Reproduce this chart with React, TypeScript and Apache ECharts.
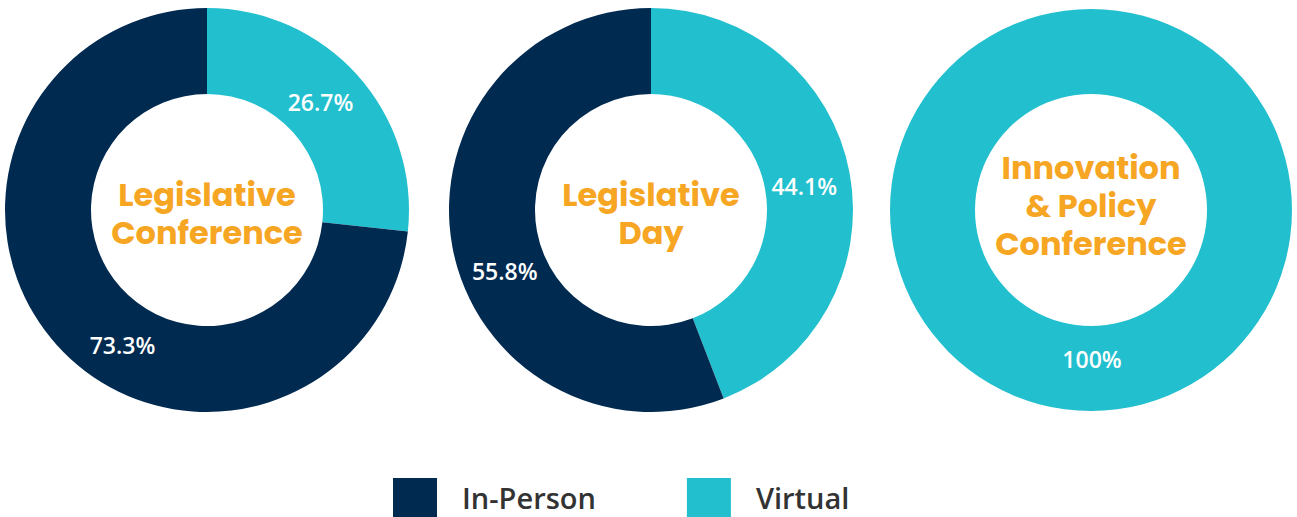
import React, { useEffect, useRef } from "react";
import * as echarts from "echarts";

const categories = ["Virtual", "In-Person"];
const legendOrder = ["In-Person", "Virtual"];
const charts = ["Legislative\nConference", "Legislative\nDay", "Innovation\n& Policy\nConference"];
const virtualValues = [26.7, 44.1, 100];
const inPersonValues = [73.3, 55.8, 0];

const NAVY = "#012A50";
const TEAL = "#22BFCE";
const ORANGE = "#F6A623";

export default function App() {
  const ref = useRef<HTMLDivElement>(null);
  useEffect(() => {
    document.body.style.margin = "0";
    const chart = echarts.init(ref.current!, null, { renderer: "svg" });
    const centers = [[207, 210], [651, 210], [1091, 210]];
    const radii = [[116, 202], [116, 202], [116, 201]];
    const titleY = [213, 213, 205];
    // label nudges: [virtual, in-person]
    const labelShift = [
      [[-7, 0], [36, 27]],
      [[-6, 6], [13, 31]],
      [[1, -13], [0, 0]],
    ];
    const series = charts.map((name, i) => ({
      type: "pie",
      name,
      center: centers[i],
      radius: radii[i],
      startAngle: 90,
      clockwise: true,
      silent: true,
      avoidLabelOverlap: false,
      label: {
        show: true,
        position: "inside",
        formatter: (p: any) => (p.value === 100 ? "100%" : p.value.toFixed(1) + "%"),
        color: "#ffffff",
        fontFamily: "Open Sans",
        fontSize: 23,
        fontWeight: 600,
      },
      labelLine: { show: false },
      labelLayout: (p: any) => {
        const s = labelShift[i][p.dataIndex] || [0, 0];
        return { dx: s[0], dy: s[1] };
      },
      itemStyle: { borderWidth: 0 },
      data: [
        { name: categories[0], value: virtualValues[i], itemStyle: { color: TEAL } },
        { name: categories[1], value: inPersonValues[i], itemStyle: { color: NAVY } },
      ].filter((d) => d.value > 0),
    }));
    chart.setOption({
      animation: false,
      color: [TEAL, NAVY],
      legend: {
        data: legendOrder.map((n) => ({ name: n, itemStyle: { color: n === "Virtual" ? TEAL : NAVY } })),
        left: 393,
        top: 478,
        padding: 0,
        itemWidth: 44,
        itemHeight: 39,
        itemGap: 91,
        icon: "rect",
        selectedMode: false,
        textStyle: {
          fontFamily: "Open Sans",
          fontSize: 29,
          fontWeight: 600,
          lineHeight: 32,
          color: "#333333",
          padding: [0, 0, 0, 20],
        },
      },
      graphic: charts.map((name, i) => ({
        type: "text",
        x: centers[i][0],
        y: titleY[i],
        style: {
          text: name,
          fill: ORANGE,
          fontFamily: "Poppins, Inter, sans-serif",
          fontSize: 32,
          fontWeight: 700,
          lineHeight: 38,
          align: "center",
          verticalAlign: "middle",
        },
      })),
      series,
    });
    return () => chart.dispose();
  }, []);
  return <div ref={ref} style={{ width: 1297, height: 517 }} />;
}
